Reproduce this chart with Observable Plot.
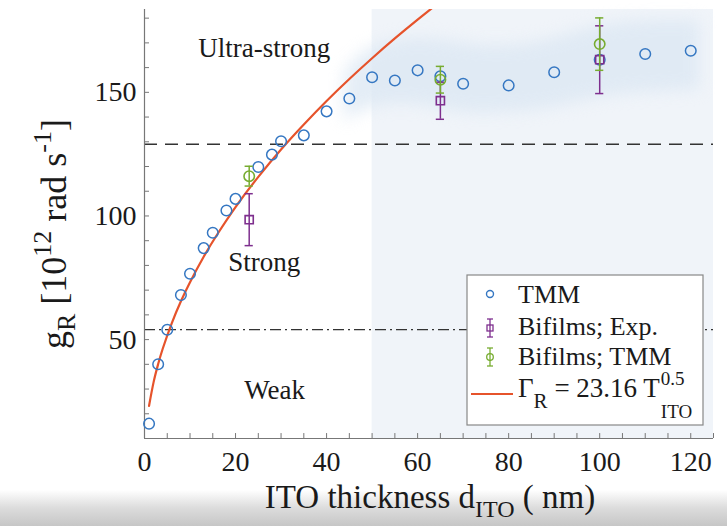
<!DOCTYPE html>
<html><head><meta charset="utf-8">
<script src="https://cdn.jsdelivr.net/npm/d3@7"></script>
<script src="https://cdn.jsdelivr.net/npm/@observablehq/plot@0.6"></script>
<style>
html,body{margin:0;padding:0;}
body{width:727px;height:526px;overflow:hidden;
 background:linear-gradient(to bottom,#ffffff 0px,#ffffff 490px,#dcdcdc 508px,#c6c6c6 526px);
 font-family:"Liberation Serif",serif;}
#chart svg{display:block;}
</style></head><body><div id="chart"></div>
<script>
// ---- data ----
const tmmX = [1,3,5,8,10,13,15,18,20,25,28,30,35,40,45,50,55,60,65,70,80,90,100,110,120];
const tmmY = [16,40,54,68,76.6,87,93.2,102.2,106.9,119.8,124.8,130.2,132.6,142.3,147.5,156.1,154.8,158.9,156.5,153.5,152.8,158.1,163.2,165.5,166.8];

const expX = [23,65,100];
const expY = [98.5,146.6,163.2];
const expErr = [10.5,7.5,13.7];

const bTmmX = [23,65,100];
const bTmmY = [116.1,155.1,169.5];
const bTmmErr = [4,5.4,10.6];

const fitX = [1,2,3,4,6,8,10,13,16,20,25,30,35,40,45,50,55,60,64];
const fitY = [23.2,32.8,40.1,46.3,56.7,65.5,73.2,83.5,92.6,103.6,115.8,126.9,137.0,146.5,155.4,163.8,171.8,179.4,185.3];

const bandX  = [44,50,60,70,80,90,100,110,122];
const bandLo = [138,144,145,142,142,144,148,150,151];
const bandHi = [158,168,172,170,169,172,177,179,179];

const shadeFrom = 50;
const strongLimit = 129;   // dashed
const weakLimit = 54;      // dash-dot

const regionNames = ["Ultra-strong","Strong","Weak"];
const regionX = [26.3,26.3,28.6];
const regionY = [167.6,81.1,29.6];

const xDomain = [0,125];
const yDomain = [10,183.5];
const xLabelTicks = [0,20,40,60,80,100,120];
const xMinorTicks = [0,5,10,15,20,25,30,35,40,45,50,55,60,65,70,75,80,85,90,95,100,105,110,115,120,125];
const yLabelTicks = [50,100,150];
const yMinorTicks = [10,20,30,40,50,60,70,80,90,100,110,120,130,140,150,160,170,180];

const legendLabels = ["TMM","Bifilms; Exp.","Bifilms; TMM"];

// ---- colors ----
const cBlue="#3577c2", cPurple="#7e2f8e", cGreen="#77ac30", cRed="#e6532b";
const FONT = "Liberation Serif";

const tmm = tmmX.map((x,i)=>({x,y:tmmY[i]}));
const exp = expX.map((x,i)=>({x,y:expY[i],lo:expY[i]-expErr[i],hi:expY[i]+expErr[i]}));
const btm = bTmmX.map((x,i)=>({x,y:bTmmY[i],lo:bTmmY[i]-bTmmErr[i],hi:bTmmY[i]+bTmmErr[i]}));
const fit = fitX.map((x,i)=>({x,y:fitY[i]}));
const band = bandX.map((x,i)=>({x,lo:bandLo[i],hi:bandHi[i]}));
const regions = regionNames.map((t,i)=>({t,x:regionX[i],y:regionY[i]}));
const capW = 0.9;

function errMarks(data, color){
  return [
    Plot.ruleX(data,{x:"x",y1:"lo",y2:"hi",stroke:color,strokeWidth:1.5}),
    Plot.ruleY(data,{y:"hi",x1:d=>d.x-capW,x2:d=>d.x+capW,stroke:color,strokeWidth:1.5}),
    Plot.ruleY(data,{y:"lo",x1:d=>d.x-capW,x2:d=>d.x+capW,stroke:color,strokeWidth:1.5})
  ];
}

const svg = Plot.plot({
  width:727, height:526,
  marginLeft:144, marginRight:14, marginTop:9, marginBottom:88,
  x:{domain:xDomain},
  y:{domain:yDomain},
  style:{background:"transparent",fontFamily:FONT,color:"#1a1a1a",overflow:"visible"},
  marks:[
    Plot.rect([{a:shadeFrom,b:xDomain[1]}],{x1:"a",x2:"b",y1:yDomain[0],y2:yDomain[1],fill:"#f0f4f9"}),
    Plot.areaY(band,{x:"x",y1:"lo",y2:"hi",fill:"#dbe7f3",curve:"natural"}),
    Plot.ruleY([strongLimit],{stroke:"#333",strokeWidth:1.5,strokeDasharray:"13,8"}),
    Plot.ruleY([weakLimit],{stroke:"#333",strokeWidth:1.3,strokeDasharray:"11,4,2,4"}),
    Plot.ruleX([xDomain[0]],{stroke:"#777",strokeWidth:1.2}),
    Plot.ruleY([yDomain[0]],{stroke:"#777",strokeWidth:1.2}),
    Plot.ruleX(xMinorTicks,{y1:yDomain[0],y2:yDomain[0]+2,stroke:"#777"}),
    Plot.ruleY(yMinorTicks,{x1:xDomain[0],x2:xDomain[0]+1.1,stroke:"#777"}),
    Plot.axisX({ticks:xLabelTicks,tickSize:0,tickPadding:13,fontSize:28,label:null}),
    Plot.axisY({ticks:yLabelTicks,tickSize:0,tickPadding:8,fontSize:28,label:null}),
    Plot.text(regions,{x:"x",y:"y",text:"t",fontSize:27,fill:"#1a1a1a"}),
    Plot.line(fit,{x:"x",y:"y",stroke:cRed,strokeWidth:2.2,curve:"natural",clip:true}),
    Plot.dot(tmm,{x:"x",y:"y",r:5.3,stroke:cBlue,strokeWidth:1.5,fill:"none"}),
    ...errMarks(exp,cPurple),
    Plot.dot(exp,{x:"x",y:"y",symbol:"square",r:4.6,stroke:cPurple,strokeWidth:1.6,fill:"none"}),
    ...errMarks(btm,cGreen),
    Plot.dot(btm,{x:"x",y:"y",r:5.2,stroke:cGreen,strokeWidth:1.6,fill:"none"})
  ]
});
document.getElementById("chart").appendChild(svg);

const s = d3.select(svg);
s.selectAll('g[aria-label="area"]').style("filter","blur(8px)").style("opacity",0.75);

// axis labels
const xl = s.append("text").attr("x",430).attr("y",508).attr("text-anchor","middle")
  .attr("font-family",FONT).attr("font-size",33).attr("fill","#1a1a1a");
xl.append("tspan").text("ITO thickness d");
xl.append("tspan").attr("dy",9).attr("font-size",24).text("ITO");
xl.append("tspan").attr("dy",-9).text(" ( nm)");

const yl = s.append("text").attr("transform","translate(66,234) rotate(-90)").attr("text-anchor","middle")
  .attr("font-family",FONT).attr("font-size",36).attr("fill","#1a1a1a");
yl.append("tspan").text("g");
yl.append("tspan").attr("dy",9).attr("font-size",26).text("R");
yl.append("tspan").attr("dy",-9).text(" [10");
yl.append("tspan").attr("dy",-15).attr("font-size",26).text("12");
yl.append("tspan").attr("dy",15).text(" rad s");
yl.append("tspan").attr("dy",-15).attr("font-size",26).text("-1");
yl.append("tspan").attr("dy",15).text("]");

// legend
const lg = s.append("g").attr("font-family",FONT).attr("fill","#1a1a1a").attr("text-anchor","start");
lg.append("rect").attr("x",467).attr("y",275).attr("width",236).attr("height",150)
  .attr("fill","#ffffff").attr("stroke","#888").attr("stroke-width",1.2);
const tx = 518, base = [303,335,365,397];
legendLabels.forEach((t,i)=>lg.append("text").attr("x",tx).attr("y",base[i]).attr("font-size",26).attr("text-anchor","start").text(t));
// markers
lg.append("circle").attr("cx",490).attr("cy",294).attr("r",3.5).attr("fill","none").attr("stroke",cBlue).attr("stroke-width",1.4);
function legErr(cy,color,sym){
  const g = lg.append("g").attr("stroke",color).attr("stroke-width",1.3).attr("fill","none");
  g.append("line").attr("x1",490).attr("x2",490).attr("y1",cy-9).attr("y2",cy+9);
  g.append("line").attr("x1",487).attr("x2",493).attr("y1",cy-9).attr("y2",cy-9);
  g.append("line").attr("x1",487).attr("x2",493).attr("y1",cy+9).attr("y2",cy+9);
  if(sym==="sq") g.append("rect").attr("x",487).attr("y",cy-3).attr("width",6).attr("height",6);
  else g.append("circle").attr("cx",490).attr("cy",cy).attr("r",3.3);
}
legErr(328,cPurple,"sq");
legErr(357,cGreen,"ci");
lg.append("line").attr("x1",471).attr("x2",513).attr("y1",394).attr("y2",394).attr("stroke",cRed).attr("stroke-width",2);
const eq = lg.append("text").attr("x",tx).attr("y",base[3]).attr("font-size",27).attr("text-anchor","start");
eq.append("tspan").text("Γ");
eq.append("tspan").attr("dy",11).attr("font-size",21).text("R");
eq.append("tspan").attr("dy",-11).text(" = 23.16 T");
const endX = tx + eq.node().getComputedTextLength() + 1;
lg.append("text").attr("x",endX).attr("y",base[3]-12).attr("font-size",19).attr("text-anchor","start").text("0.5");
lg.append("text").attr("x",endX).attr("y",base[3]+21).attr("font-size",19).attr("text-anchor","start").text("ITO");
</script></body></html>
